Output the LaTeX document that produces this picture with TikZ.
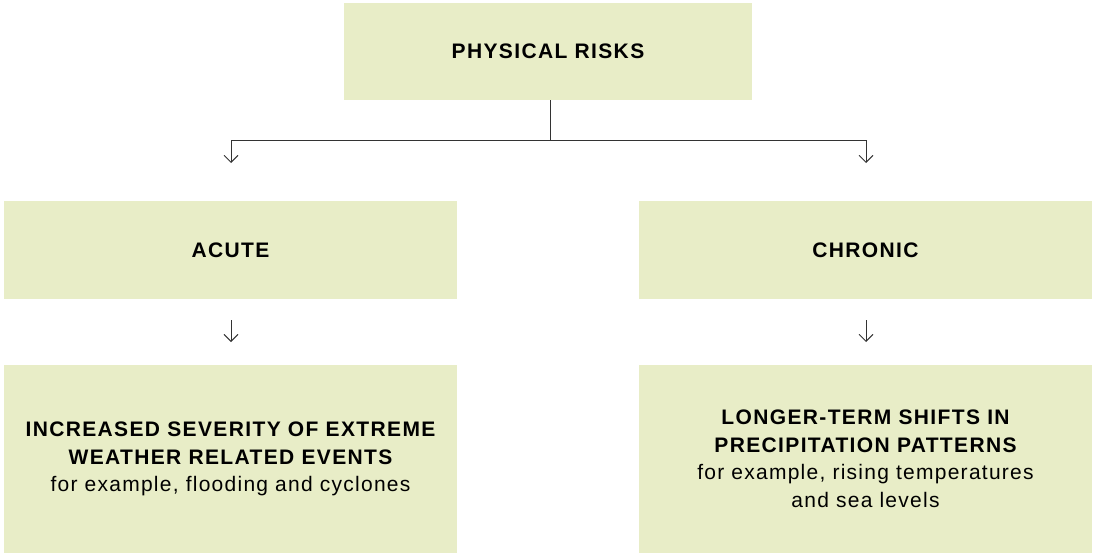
\documentclass[tikz,border=0pt]{standalone}
\usepackage{fontspec}
\setmainfont{Liberation Sans}
\newfontfamily\capsf[LetterSpace=6.5]{Liberation Sans}
\newfontfamily\smallf[LetterSpace=6]{Liberation Sans}
\usetikzlibrary{arrows.meta}
\definecolor{boxfill}{HTML}{E8EDC7}
\definecolor{linec}{HTML}{333333}
\begin{document}
\begin{tikzpicture}[x=1pt,y=-1pt,
  box/.style={fill=boxfill,draw=none,inner sep=0pt,align=center,font=\fontsize{21}{27.5}\selectfont},
  conn/.style={draw=linec,line width=1pt,-{Straight Barb[length=7pt,width=14pt,line width=0.9pt]}},
  plain/.style={draw=linec,line width=1pt}]
\useasboundingbox (0,0) rectangle (1093,554);
\node[box,minimum width=408pt,minimum height=97pt] (top) at (548,51.5) {\capsf\bfseries\raisebox{-2pt}{PHYSICAL RISKS}};
\node[box,minimum width=453pt,minimum height=98pt] (acute) at (230.5,250) {\capsf\bfseries\raisebox{-1pt}{ACUTE}};
\node[box,minimum width=453pt,minimum height=98pt] (chronic) at (865.5,250) {\capsf\bfseries\raisebox{-1pt}{CHRONIC}};
\node[box,minimum width=453pt,minimum height=188pt] (acuteb) at (230.5,459) {\capsf\bfseries INCREASED SEVERITY OF EXTREME\\\capsf\bfseries WEATHER RELATED EVENTS\\\smallf\mdseries for example, flooding and cyclones};
\node[box,minimum width=453pt,minimum height=188pt] (chronicb) at (865.5,459) {\capsf\bfseries LONGER-TERM SHIFTS IN\\\capsf\bfseries PRECIPITATION PATTERNS\\\smallf\mdseries for example, rising temperatures\\\smallf\mdseries and sea levels};
\coordinate (split) at (550,140);
\coordinate (la) at (231,140);
\coordinate (ra) at (866,140);
\coordinate (lae) at (231,163);
\coordinate (rae) at (866,163);
\draw[plain] (top.south -| split) -- (split);
\draw[plain] (la) -- (ra);
\draw[conn] (la) -- (lae);
\draw[conn] (ra) -- (rae);
\coordinate (am1) at (231,320);
\coordinate (am2) at (231,342);
\coordinate (cm1) at (866,320);
\coordinate (cm2) at (866,342);
\draw[conn] (am1) -- (am2);
\draw[conn] (cm1) -- (cm2);
\end{tikzpicture}
\end{document}
